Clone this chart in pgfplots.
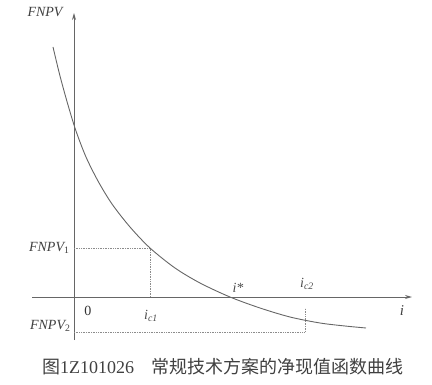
\documentclass[border=0pt]{standalone}
\usepackage{pgfplots}
\pgfplotsset{compat=1.18}
\usepackage{fontspec}
\setmainfont{Liberation Serif}
\newfontfamily\cjk{Noto Sans CJK SC}
\usetikzlibrary{arrows.meta}
\begin{document}
\begin{tikzpicture}
\begin{axis}[
  scale only axis, width=432pt, height=384pt,
  xmin=0, xmax=432, ymin=-384, ymax=0,
  axis lines=none, clip=false,
]
\coordinate (bl) at (axis cs:0,-384);
\coordinate (tr) at (axis cs:432,0);
% axes
\addplot[color=black!60, line width=1pt, -{Stealth[length=7pt,width=4pt]}] coordinates {(32,-297) (412,-297)};
\addplot[color=black!60, line width=1pt, -{Stealth[length=7pt,width=4pt]}] coordinates {(74,-340) (74,-13)};
% dotted guides
\addplot[color=black!45, densely dotted, line width=0.7pt] coordinates {(74,-248) (150,-248) (150,-297)};
\addplot[color=black!45, densely dotted, line width=0.7pt] coordinates {(74,-332) (305,-332) (305,-308)};
% curve
\addplot[color=black!60, line width=0.9pt, smooth] coordinates {
(53,-47) (60,-76) (68,-105) (76,-131) (86,-157) (98,-181) (112,-204) (130,-227) (150,-248)
(175,-268) (200,-283) (230,-297) (260,-308) (290,-317) (320,-323) (345,-326) (366,-328)};
% labels
\node[font=\fontsize{14}{14}\selectfont\itshape, text=black!75] at (axis cs:45,-12) {FNPV};
\node[font=\fontsize{14}{14}\selectfont\itshape, text=black!75, anchor=east] at (axis cs:73,-248) {FNPV\textsubscript{\upshape 1}};
\node[font=\fontsize{14}{14}\selectfont\itshape, text=black!75, anchor=east] at (axis cs:74,-326) {FNPV\textsubscript{\upshape 2}};
\node[font=\fontsize{14}{14}\selectfont, text=black!80] at (axis cs:88,-311) {0};
\node[font=\fontsize{14}{14}\selectfont\itshape, text=black!70] at (axis cs:151,-316) {i\textsubscript{c1}};
\node[font=\fontsize{14}{14}\selectfont\itshape, text=black!70] at (axis cs:238,-288) {i*};
\node[font=\fontsize{14}{14}\selectfont\itshape, text=black!70] at (axis cs:307,-284) {i\textsubscript{c2}};
\node[font=\fontsize{15}{15}\selectfont\itshape, text=black!75] at (axis cs:402,-311) {i};
\node[font=\fontsize{18}{18}\selectfont, text=black!75, anchor=west, inner sep=0pt] at (axis cs:42,-367) {{\cjk 图}1Z101026\hspace{17pt}{\cjk 常规技术方案的净现值函数曲线}};
\end{axis}
\pgfresetboundingbox
\path[use as bounding box] (bl) rectangle (tr);
\end{tikzpicture}
\end{document}
